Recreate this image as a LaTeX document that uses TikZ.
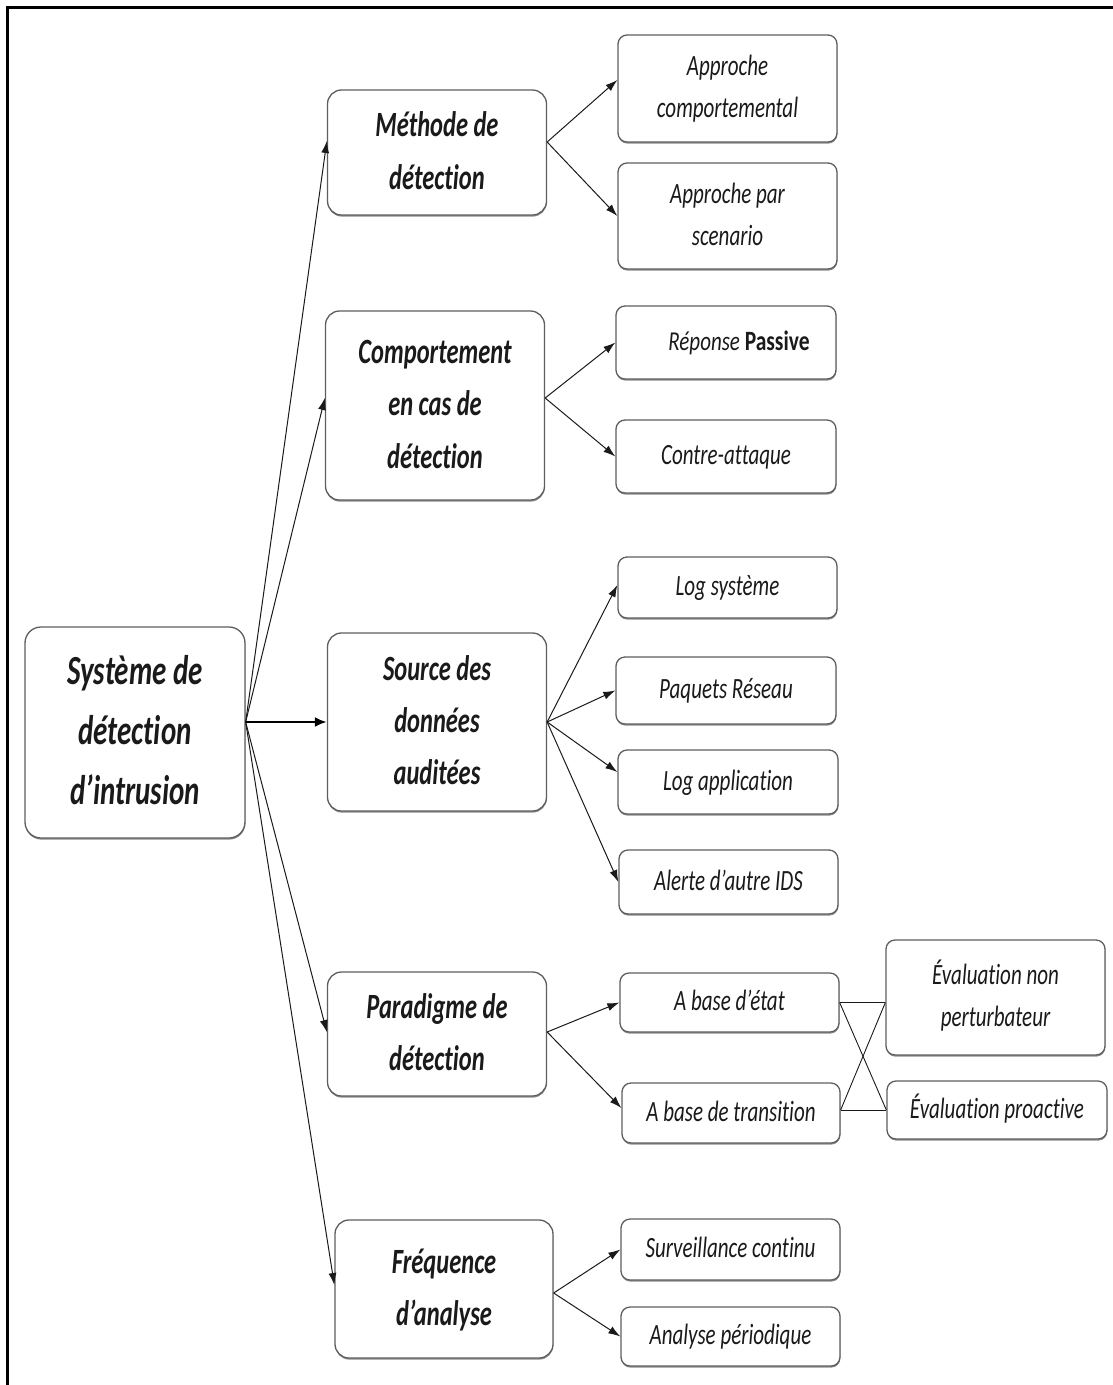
\documentclass[tikz,border=0pt]{standalone}
\usepackage{fontspec}
\setmainfont{Carlito}[Ligatures=NoCommon]
\usetikzlibrary{arrows.meta,shadows}
\definecolor{edgegray}{HTML}{5E5E5E}
\definecolor{ink}{HTML}{1A1A1A}
% rows of a label, set taller than wide
\newcommand{\tallrows}[2][1.4]{\scalebox{1}[#1]{\begin{tabular}{@{}c@{}}#2\end{tabular}}}

\begin{document}
\begin{tikzpicture}[x=1pt,y=-1pt,
  boxbase/.style={draw=edgegray, line width=1.3pt, fill=white, inner sep=0pt, text=ink,
    drop shadow={shadow xshift=0.3pt, shadow yshift=-1.6pt, fill=black, opacity=0.45}},
  rootbox/.style={boxbase, rounded corners=16pt, font=\fontsize{29}{42}\selectfont\bfseries\itshape},
  catbox/.style={boxbase, rounded corners=14pt, minimum width=219pt, font=\fontsize{24.5}{36}\selectfont\bfseries\itshape},
  leafbox/.style={boxbase, rounded corners=9pt, minimum width=219pt, font=\fontsize{21}{30}\selectfont\itshape},
  link/.style={draw=ink, line width=1pt, -{Latex[length=12pt,width=8pt]}},
  boldlink/.style={draw=black, line width=2.4pt, -{Latex[length=12pt,width=10pt]}},
  cross/.style={draw=ink, line width=0.9pt}
]
\useasboundingbox (0,0) rectangle (1113,1385);

% frame on the top and left sides
\draw[black, line width=3pt] (7,1385) -- (7,7) -- (1113,7);

% root
\node[rootbox, minimum width=220pt, minimum height=211pt] (ids) at (135,732.5)
  {\raisebox{-2pt}{\tallrows[1.43]{Système de\\détection\\d’intrusion}}};

% categories
\node[catbox, minimum height=125pt] (meth) at (437,152.5) {\raisebox{-4pt}{\tallrows[1.45]{Méthode de\\détection}}};
\node[catbox, minimum height=189pt] (comp) at (435,405.5) {\raisebox{-2pt}{\tallrows[1.45]{Comportement\\en cas de\\détection}}};
\node[catbox, minimum height=178pt] (src)  at (437,722)   {\raisebox{-5pt}{\tallrows[1.45]{Source des\\données\\auditées}}};
\node[catbox, minimum height=124pt] (para) at (437,1034)  {\raisebox{-3pt}{\tallrows[1.45]{Paradigme de\\détection}}};
\node[catbox, minimum width=218pt, minimum height=138pt] (freq) at (444,1289) {\raisebox{-1pt}{\tallrows[1.45]{Fréquence\\d’analyse}}};

% leaves
\node[leafbox, minimum height=107pt] (appc) at (727.5,88.5)  {\tallrows{Approche\\comportemental}};
\node[leafbox, minimum height=106pt] (apps) at (727.5,216)   {\tallrows{Approche par\\scenario}};
\node[leafbox, minimum width=220pt, minimum height=73pt] (rep) at (726,342.5)
  {\hspace*{26pt}\tallrows[1.3]{Réponse {\upshape\bfseries\fontsize{21.5}{30}\selectfont Passive}}};
\node[leafbox, minimum width=220pt, minimum height=73pt] (cntr) at (726,456.5) {\tallrows{Contre-attaque}};
\node[leafbox, minimum height=61pt] (logs) at (727.5,587.5)  {\tallrows{Log système}};
\node[leafbox, minimum width=220pt, minimum height=67pt] (paq) at (726,690.5) {\tallrows{Paquets Réseau}};
\node[leafbox, minimum width=220pt, minimum height=64pt] (loga) at (728,782) {\tallrows{Log application}};
\node[leafbox, minimum height=64pt] (alrt) at (728.5,882)    {\tallrows{Alerte d’autre IDS}};
\node[leafbox, minimum height=59pt] (etat) at (729.5,1002.5) {\tallrows{A base d’état}};
\node[leafbox, minimum width=218pt, minimum height=60pt] (trans) at (731,1113) {\tallrows{A base de transition}};
\node[leafbox, minimum height=115pt] (evnon) at (995.5,997.5) {\tallrows{Évaluation non\\perturbateur}};
\node[leafbox, minimum width=220pt, minimum height=58pt] (evpro) at (997,1110) {\tallrows{Évaluation proactive}};
\node[leafbox, minimum height=61pt] (surv) at (730.5,1249.5)  {\tallrows{Surveillance continu}};
\node[leafbox, minimum height=59pt] (anal) at (730.5,1336.5)  {\tallrows{Analyse périodique}};

% root to categories
\draw[link] ([yshift=10.5pt]ids.east) -- ([yshift=11.5pt]meth.west);
\draw[link] ([yshift=10.5pt]ids.east) -- ([yshift=7.5pt]comp.west);
\draw[boldlink] ([yshift=10.5pt]ids.east) -- (src.west);
\draw[link] ([yshift=10.5pt]ids.east) -- ([yshift=2pt]para.west);
\draw[link] ([yshift=10.5pt]ids.east) -- ([yshift=4pt]freq.west);

% categories to leaves
\draw[link] ([yshift=10.5pt]meth.east) -- ([yshift=8.5pt]appc.west);
\draw[link] ([yshift=10.5pt]meth.east) -- (apps.west);
\draw[link] ([yshift=7.5pt]comp.east) -- (rep.west);
\draw[link] ([yshift=7.5pt]comp.east) -- (cntr.west);
\draw[link] (src.east) -- ([yshift=2.5pt]logs.west);
\draw[link] (src.east) -- (paq.west);
\draw[link] (src.east) -- ([yshift=10pt]loga.west);
\draw[link] (src.east) -- (alrt.west);
\draw[link] ([yshift=2pt]para.east) -- (etat.west);
\draw[link] ([yshift=2pt]para.east) -- ([yshift=5pt]trans.west);
\draw[link] ([yshift=-4pt]freq.east) -- (surv.west);
\draw[link] ([yshift=-4pt]freq.east) -- (anal.west);

% state / transition to evaluation, crossed
\draw[cross] (etat.east) -- (etat.east -| evnon.west);
\draw[cross] ([yshift=3pt]trans.east) -- ([yshift=3pt]trans.east -| evpro.west);
\draw[cross] (etat.east) -- ([yshift=3pt]trans.east -| evpro.west);
\draw[cross] ([yshift=3pt]trans.east) -- (etat.east -| evnon.west);
\end{tikzpicture}
\end{document}
